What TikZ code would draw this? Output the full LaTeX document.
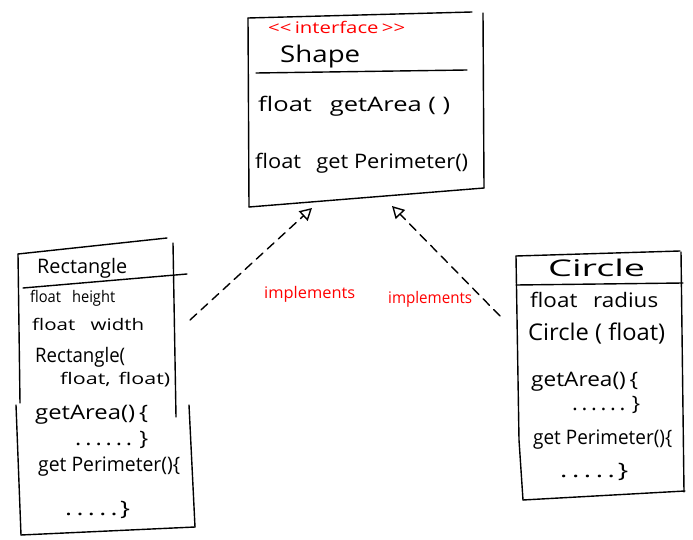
\documentclass[tikz,border=0pt]{standalone}
\usepackage{fontspec}
\usepackage{graphicx}
\setmainfont{Open Sans}
\usetikzlibrary{arrows.meta}
% hand lettering: text stretched to a given width, natural height kept
\newcommand{\hw}[2]{\resizebox{#1pt}{\height}{#2}}
\begin{document}
\begin{tikzpicture}[x=1pt,y=-1pt,
  edge/.style={line width=1.4pt, line cap=round, line join=round},
  txt/.style={anchor=west, inner sep=0pt, font=\fontsize{20}{24}\selectfont},
  small txt/.style={txt, font=\fontsize{16}{19}\selectfont},
  big txt/.style={txt, font=\fontsize{23}{27}\selectfont},
  red txt/.style={txt, text=red, font=\fontsize{16}{19}\selectfont},
  realize/.style={edge, dash pattern=on 9pt off 6pt, -{Triangle[open, length=12pt, width=13pt, line width=1.4pt]}}
]
\useasboundingbox (0,0) rectangle (693,540);

% ---- Shape interface ----
\draw[edge] (248,18) -- (472,12);
\draw[edge] (248,18) -- (249,207);
\draw[edge] (483,13) -- (484,188);
\draw[edge] (249,207) -- (484,188);
\draw[edge] (256,73) -- (467,70);
\node[red txt] (stereo) at (268,27) {\hw{137}{{<}{<}\,interface\,{>}{>}}};
\node[big txt] (shapeName) at (280,57) {\hw{80}{Shape}};
\node[txt] (m1) at (258,106) {\hw{192}{float\hspace{14pt}getArea ( )}};
\node[txt] (m2) at (255,163) {\hw{213}{float\hspace{14pt}get Perimeter()}};
\coordinate (shapeL) at (312,208);
\coordinate (shapeR) at (392,206);

% ---- Rectangle class ----
\draw[edge] (18,254) -- (167,238);
\draw[edge] (18,254) -- (20,403);
\draw[edge] (16,405) -- (21,535);
\draw[edge] (173,243) -- (176,417);
\draw[edge] (189,405) -- (195,527);
\draw[edge] (21,535) -- (195,527);
\draw[edge] (23,288) -- (187,274);
\node[txt] (rectName) at (37,268) {\hw{90}{Rectangle}};
\node[small txt] (r1) at (30,298) {\hw{85}{float\hspace{12pt}height}};
\node[small txt] (r2) at (32,324) {\hw{112}{float\hspace{12pt}width}};
\node[txt] (r3) at (35,357) {\hw{90}{Rectangle(}};
\node[small txt] (r4) at (60,380) {\hw{110}{float,\hspace{6pt}float)}};
\node[txt] (r5) at (35,415) {\hw{113}{getArea()\,\{}};
\node[txt] (r6) at (75,440) {\hw{73}{.\,.\,.\,.\,.\,.\hspace{6pt}\}}};
\node[txt] (r7) at (38,467) {\hw{142}{get Perimeter()\{}};
\node[txt] (r8) at (65,510) {\hw{65}{.\,.\,.\,.\,.\hspace{2pt}\}}};
\coordinate (rectR) at (190,320);

% ---- Circle class ----
\draw[edge] (516,256) -- (680,251);
\draw[edge] (516,256) -- (519,440) -- (523,500);
\draw[edge] (681,252) -- (684,492);
\draw[edge] (523,500) -- (685,491);
\draw[edge] (516,285) -- (683,283);
\node[big txt] (circName) at (548,268) {\hw{97}{Circle}};
\node[txt] (c1) at (530,300) {\hw{128}{float\hspace{14pt}radius}};
\node[big txt] (c2) at (528,334) {\hw{137}{Circle ( float)}};
\node[txt] (c3) at (531,382) {\hw{107}{getArea()\,\{}};
\node[txt] (c4) at (572,405) {\hw{68}{.\,.\,.\,.\,.\,.\hspace{6pt}\}}};
\node[txt] (c5) at (533,440) {\hw{139}{get Perimeter()\{}};
\node[txt] (c6) at (560,472) {\hw{68}{.\,.\,.\,.\,.\hspace{2pt}\}}};
\coordinate (circL) at (500,316);

% ---- realization arrows ----
\draw[realize] (rectR) -- (shapeL);
\draw[realize] (circL) -- (shapeR);
\node[red txt] (imp1) at (264,294) {\hw{91}{implements}};
\node[red txt] (imp2) at (388,299) {\hw{84}{implements}};
\end{tikzpicture}
\end{document}
